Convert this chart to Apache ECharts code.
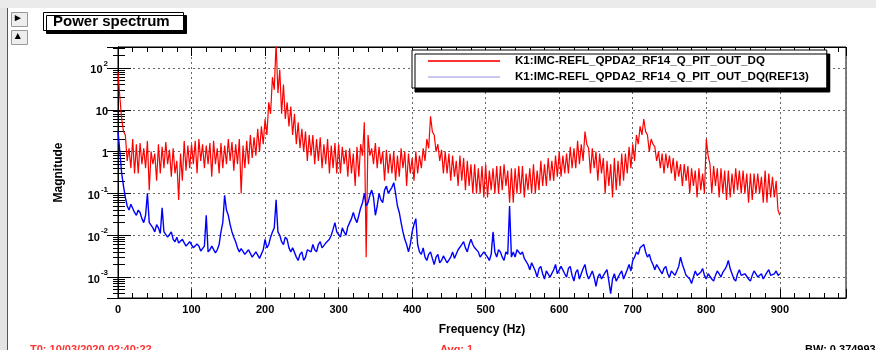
<!DOCTYPE html>
<html><head><meta charset="utf-8">
<script src="https://cdn.jsdelivr.net/npm/echarts@6/dist/echarts.min.js"></script>
<style>html,body{margin:0;padding:0;background:#fff}#c{width:876px;height:350px}</style>
</head><body><div id="c"></div>
<script>
// Frequency grid step (Hz) and series values
const FREQ_STEP = 2.5;
const seriesNames = ['K1:IMC-REFL_QPDA2_RF14_Q_PIT_OUT_DQ', 'K1:IMC-REFL_QPDA2_RF14_Q_PIT_OUT_DQ(REF13)'];
const redValues = [
  80, 20, 6, 3, 2.5, 0.6, 1.2, 0.4, 2.0, 0.3, 1.5, 0.3, 1.6, 0.5, 1.2, 0.4, 1.8, 0.12, 1.0, 0.5,
  0.9, 0.2, 1.5, 0.3, 1.3, 0.4, 1.7, 0.5, 1.1, 0.25, 1.2, 0.3, 0.6, 0.07, 0.9, 0.2, 1.8, 0.35, 1.4, 0.4,
  1.5, 0.5, 1.8, 0.3, 2.0, 0.6, 1.5, 0.4, 1.4, 0.5, 1.6, 0.25, 1.8, 0.5, 1.2, 0.3, 1.6, 0.4, 1.4, 0.5,
  2.0, 0.6, 1.7, 0.35, 1.5, 0.5, 2.0, 0.1, 1.4, 0.4, 1.8, 0.5, 2.5, 0.7, 2.2, 0.8, 3.5, 1.0, 4, 1.5,
  6, 2.5, 15, 8, 60, 30, 400, 25, 90, 8, 40, 6, 15, 4, 12, 2.5, 8, 1.5, 5, 1.2,
  3.5, 1.0, 3, 0.6, 2.5, 0.8, 2.5, 0.5, 2.0, 0.6, 2.2, 0.4, 1.5, 0.5, 2.0, 0.3, 1.4, 0.4, 1.6, 0.3,
  1.5, 0.3, 1.3, 0.5, 1.1, 0.25, 1.2, 0.3, 0.9, 0.15, 1.3, 0.25, 1.5, 0.8, 5, 0.003, 2.5, 0.8, 1.2, 0.5,
  1.6, 0.4, 1.3, 0.5, 1.0, 0.2, 1.1, 0.3, 0.9, 0.3, 1.0, 0.2, 0.8, 0.25, 1.2, 0.4, 1.0, 0.15, 0.9, 0.3,
  0.7, 0.2, 1.0, 0.3, 0.8, 0.4, 1.2, 0.6, 2.0, 1.2, 7, 3, 2.5, 1.0, 1.5, 0.6, 1.1, 0.3, 1.0, 0.3,
  0.9, 0.2, 0.8, 0.25, 0.6, 0.15, 0.8, 0.2, 0.7, 0.12, 0.6, 0.15, 0.5, 0.1, 0.5, 0.1, 0.4, 0.1, 0.45, 0.08,
  0.5, 0.08, 0.35, 0.12, 0.4, 0.1, 0.45, 0.1, 0.45, 0.12, 0.5, 0.15, 0.35, 0.06, 0.4, 0.06, 0.4, 0.1, 0.45, 0.1,
  0.45, 0.08, 0.3, 0.12, 0.4, 0.1, 0.5, 0.1, 0.35, 0.12, 0.6, 0.15, 0.5, 0.15, 0.7, 0.2, 0.6, 0.2, 0.8, 0.25,
  1.0, 0.25, 0.8, 0.3, 0.9, 0.3, 1.3, 0.4, 1.2, 0.4, 1.8, 0.5, 1.5, 0.6, 3, 1.5, 1.2, 0.3, 1.2, 0.4,
  1.0, 0.2, 0.9, 0.3, 0.7, 0.1, 0.6, 0.15, 0.5, 0.08, 0.7, 0.12, 0.6, 0.15, 0.9, 0.2, 0.9, 0.3, 1.3, 0.4,
  1.5, 0.6, 2.5, 1.5, 4, 2.5, 6, 3, 2.5, 1.0, 2.0, 1.5, 1.3, 0.6, 1.0, 0.4, 0.9, 0.3, 0.9, 0.4,
  0.8, 0.3, 0.7, 0.2, 0.6, 0.25, 0.5, 0.15, 0.5, 0.2, 0.45, 0.1, 0.4, 0.15, 0.35, 0.08, 0.4, 0.12, 0.3, 0.1,
  2.0, 0.8, 0.5, 0.1, 0.45, 0.15, 0.4, 0.08, 0.4, 0.1, 0.35, 0.07, 0.35, 0.08, 0.3, 0.1, 0.4, 0.12, 0.35, 0.1,
  0.35, 0.1, 0.3, 0.06, 0.3, 0.07, 0.3, 0.1, 0.3, 0.1, 0.25, 0.06, 0.35, 0.06, 0.3, 0.08, 0.25, 0.08, 0.2, 0.04,
  0.03
];
const blueValues = [
  3, 1.0, 0.3, 0.15, 0.08, 0.05, 0.04, 0.055, 0.05, 0.035, 0.03, 0.04, 0.035, 0.025, 0.02, 0.03, 0.1, 0.02, 0.02, 0.015,
  0.012, 0.018, 0.015, 0.011, 0.045, 0.012, 0.012, 0.009, 0.01, 0.012, 0.008, 0.007, 0.009, 0.0065, 0.007, 0.008, 0.0075, 0.0055, 0.006, 0.007,
  0.0065, 0.005, 0.005, 0.0062, 0.0055, 0.0042, 0.0045, 0.0055, 0.03, 0.004, 0.0045, 0.0055, 0.005, 0.0038, 0.0045, 0.006, 0.012, 0.02, 0.09, 0.04,
  0.03, 0.018, 0.012, 0.009, 0.007, 0.005, 0.004, 0.0048, 0.005, 0.0035, 0.0035, 0.0045, 0.0045, 0.003, 0.003, 0.004, 0.004, 0.0028, 0.003, 0.0045,
  0.008, 0.005, 0.006, 0.009, 0.012, 0.015, 0.07, 0.012, 0.01, 0.007, 0.006, 0.009, 0.008, 0.005, 0.004, 0.005, 0.0045, 0.003, 0.0025, 0.0035,
  0.004, 0.0025, 0.003, 0.0045, 0.005, 0.004, 0.006, 0.0045, 0.004, 0.006, 0.007, 0.005, 0.005, 0.0065, 0.006, 0.008, 0.01, 0.014, 0.02, 0.012,
  0.012, 0.009, 0.015, 0.012, 0.01, 0.016, 0.02, 0.025, 0.035, 0.025, 0.02, 0.03, 0.045, 0.06, 0.1, 0.05, 0.06, 0.09, 0.12, 0.08,
  0.03, 0.05, 0.1, 0.07, 0.06, 0.12, 0.15, 0.1, 0.09, 0.14, 0.18, 0.1, 0.05, 0.035, 0.02, 0.012, 0.008, 0.006, 0.004, 0.006,
  0.012, 0.018, 0.025, 0.006, 0.004, 0.0035, 0.005, 0.003, 0.0025, 0.0035, 0.004, 0.0028, 0.002, 0.003, 0.0035, 0.0022, 0.0025, 0.0032, 0.003, 0.0022,
  0.002, 0.003, 0.004, 0.0028, 0.003, 0.0045, 0.005, 0.006, 0.007, 0.005, 0.004, 0.006, 0.008, 0.006, 0.005, 0.0045, 0.004, 0.003, 0.003, 0.004,
  0.004, 0.003, 0.0025, 0.0035, 0.012, 0.004, 0.003, 0.0045, 0.004, 0.003, 0.0025, 0.004, 0.0035, 0.05, 0.003, 0.004, 0.003, 0.0045, 0.005, 0.0035,
  0.004, 0.0028, 0.003, 0.002, 0.0015, 0.0022, 0.002, 0.0014, 0.001, 0.0016, 0.0018, 0.0012, 0.0009, 0.0014, 0.0015, 0.001, 0.001, 0.0015, 0.002, 0.0012,
  0.0012, 0.0018, 0.002, 0.0012, 0.001, 0.0016, 0.0018, 0.0011, 0.0008, 0.0013, 0.0015, 0.0009, 0.001, 0.0016, 0.002, 0.0012, 0.0009, 0.0011, 0.0014, 0.001,
  0.0006, 0.001, 0.0012, 0.0009, 0.0009, 0.0013, 0.0015, 0.0008, 0.0004, 0.0009, 0.0012, 0.0008, 0.0008, 0.0012, 0.0014, 0.0009, 0.001, 0.0015, 0.002, 0.0014,
  0.0025, 0.003, 0.004, 0.0035, 0.005, 0.0045, 0.006, 0.004, 0.003, 0.0035, 0.0025, 0.002, 0.0015, 0.002, 0.002, 0.0014, 0.0012, 0.0016, 0.0018, 0.0012,
  0.001, 0.0014, 0.0015, 0.0011, 0.0012, 0.0018, 0.003, 0.002, 0.0015, 0.0011, 0.0012, 0.0009, 0.0007, 0.001, 0.0014, 0.0011, 0.001, 0.0013, 0.0016, 0.0011,
  0.0009, 0.0012, 0.0013, 0.0009, 0.0008, 0.0011, 0.0014, 0.0012, 0.001, 0.0013, 0.0015, 0.0018, 0.0025, 0.0016, 0.0012, 0.0009, 0.0008, 0.0012, 0.0015, 0.0011,
  0.001, 0.0012, 0.0013, 0.0009, 0.0008, 0.0011, 0.0014, 0.0012, 0.001, 0.0011, 0.0012, 0.0009, 0.0009, 0.0013, 0.0015, 0.0011, 0.001, 0.0012, 0.0014, 0.0011,
  0.0012
];
const xTickLabels = ['0','100','200','300','400','500','600','700','800','900'];
const yTickLabels = {'2':['10','2'],'1':['10',''],'0':['1',''],'-1':['10','-1'],'-2':['10','-2'],'-3':['10','-3']};

const toPairs = vals => vals.map((v, i) => [i * FREQ_STEP, v]);
const FONT = '"Liberation Sans", Arial, sans-serif';
const Y_MIN = Math.pow(10, -3.5), Y_MAX = Math.pow(10, 2.5);

const chart = echarts.init(document.getElementById('c'), null, {renderer: 'canvas'});
const dotted = {color: '#666', width: 1, type: [2, 3]};
chart.setOption({
  animation: false,
  backgroundColor: '#fff',
  title: {
    text: 'Power spectrum', left: 43, top: 12,
    padding: [2, 14, 2, 10],
    backgroundColor: '#fff', borderColor: '#000', borderWidth: 1,
    shadowColor: '#000', shadowOffsetX: 3, shadowOffsetY: 3, shadowBlur: 0.1,
    textStyle: {fontFamily: FONT, fontWeight: 'bold', fontSize: 15, color: '#000'}
  },
  legend: {
    left: 412, top: 50, orient: 'vertical',
    padding: [5, 18, 5, 16], itemGap: 4,
    icon: 'rect', itemWidth: 72, itemHeight: 2,
    backgroundColor: '#fff', borderColor: '#000', borderWidth: 1,
    shadowColor: '#000', shadowOffsetX: 3, shadowOffsetY: 4, shadowBlur: 0.1,
    textStyle: {fontFamily: FONT, fontWeight: 'bold', fontSize: 11.6, color: '#000', lineHeight: 12, padding: [0, 0, 0, 10]},
    data: [
      {name: seriesNames[0], itemStyle: {color: '#ff3333'}},
      {name: seriesNames[1], itemStyle: {color: '#c8c8f0'}}
    ]
  },
  grid: {left: 118, right: 30, top: 47, bottom: 52, show: true, borderColor: '#000', borderWidth: 1, outerBoundsMode: 'none'},
  xAxis: [{
    type: 'value', min: 0, max: 990, interval: 100,
    name: 'Frequency (Hz)', nameLocation: 'middle', nameGap: 26,
    nameTextStyle: {fontFamily: FONT, fontWeight: 'bold', fontSize: 12, color: '#000'},
    axisLine: {lineStyle: {color: '#000', width: 1}},
    axisTick: {inside: true, length: 9, lineStyle: {color: '#000'}},
    minorTick: {show: true, splitNumber: 5, length: 5, lineStyle: {color: '#000'}},
    splitLine: {show: true, lineStyle: dotted},
    axisLabel: {showMaxLabel: false, margin: 6, fontFamily: FONT, fontWeight: 'bold', fontSize: 11, color: '#000',
      formatter: v => xTickLabels[Math.round(v / 100)] || ''}
  }, {
    type: 'value', position: 'top', min: 0, max: 990, interval: 100,
    axisLine: {show: true, lineStyle: {color: '#000'}},
    axisTick: {inside: true, length: 9, lineStyle: {color: '#000'}},
    minorTick: {show: true, splitNumber: 5, length: 5, lineStyle: {color: '#000'}},
    splitLine: {show: false}, axisLabel: {show: false}
  }],
  yAxis: [{
    type: 'log', logBase: 10, min: Y_MIN, max: Y_MAX,
    name: 'Magnitude', nameLocation: 'middle', nameGap: 53, nameRotate: 90,
    nameTextStyle: {fontFamily: FONT, fontWeight: 'bold', fontSize: 12, color: '#000'},
    axisLine: {show: true, lineStyle: {color: '#000'}},
    axisTick: {inside: true, length: 13, lineStyle: {color: '#000'}},
    minorTick: {show: true, splitNumber: 9, length: 7, lineStyle: {color: '#000'}},
    splitLine: {show: true, lineStyle: dotted},
    axisLabel: {showMinLabel: false, showMaxLabel: false, margin: 10, color: '#000',
      formatter: v => {
        const e = Math.log10(v); const r = Math.round(e);
        if (Math.abs(e - r) > 1e-6) return '';
        const t = yTickLabels[String(r)]; if (!t) return '';
        return t[1] ? '{b|' + t[0] + '}{s|' + t[1] + '}' : '{b|' + t[0] + '}';
      },
      rich: {
        b: {fontFamily: FONT, fontWeight: 'bold', fontSize: 11, color: '#000', lineHeight: 16, verticalAlign: 'bottom'},
        s: {fontFamily: FONT, fontWeight: 'bold', fontSize: 8, color: '#000', lineHeight: 16, verticalAlign: 'top', padding: [0, 0, 0, 1]}
      }}
  }, {
    type: 'log', logBase: 10, min: Y_MIN, max: Y_MAX, position: 'right',
    axisLine: {show: true, lineStyle: {color: '#000'}},
    axisTick: {inside: true, length: 11, lineStyle: {color: '#000'}},
    minorTick: {show: true, splitNumber: 9, length: 5, lineStyle: {color: '#000'}},
    splitLine: {show: false}, axisLabel: {show: false}
  }],
  series: [
    {name: seriesNames[0], type: 'line', xAxisIndex: 0, yAxisIndex: 0, data: toPairs(redValues),
     showSymbol: false, symbol: 'none', clip: true, lineStyle: {color: '#ff0000', width: 1.2}, itemStyle: {color: '#ff0000'}},
    {name: seriesNames[1], type: 'line', xAxisIndex: 0, yAxisIndex: 0, data: toPairs(blueValues),
     showSymbol: false, symbol: 'none', clip: true, lineStyle: {color: '#0000ff', width: 1.4}, itemStyle: {color: '#0000ff'}}
  ],
  graphic: [
    {type: 'rect', left: 0, top: 0, shape: {width: 876, height: 8}, style: {fill: '#ebebeb'}, silent: true},
    {type: 'rect', left: 0, top: 8, shape: {width: 7, height: 342}, style: {fill: '#e4e4e4'}, silent: true},
    {type: 'rect', left: 7, top: 8, shape: {width: 1, height: 342}, style: {fill: '#555'}, silent: true},
    {type: 'rect', left: 11, top: 12, shape: {width: 16, height: 14}, style: {fill: '#eee', stroke: '#999', lineWidth: 1}, silent: true},
    {type: 'text', left: 15, top: 12, style: {text: '▸', font: 'bold 11px ' + FONT, fill: '#000'}, silent: true},
    {type: 'rect', left: 11, top: 30, shape: {width: 16, height: 14}, style: {fill: '#eee', stroke: '#999', lineWidth: 1}, silent: true},
    {type: 'text', left: 15, top: 30, style: {text: '▴', font: 'bold 11px ' + FONT, fill: '#000'}, silent: true},
    {type: 'text', left: 30, top: 344, style: {text: 'T0: 10/03/2020 02:40:22', font: 'bold 11px ' + FONT, fill: '#ff3030'}, silent: true},
    {type: 'text', left: 440, top: 344, style: {text: 'Avg: 1', font: 'bold 11px ' + FONT, fill: '#ff3030'}, silent: true},
    {type: 'text', left: 805, top: 344, style: {text: 'BW: 0.374993', font: 'bold 11px ' + FONT, fill: '#000'}, silent: true}
  ]
});
</script></body></html>
